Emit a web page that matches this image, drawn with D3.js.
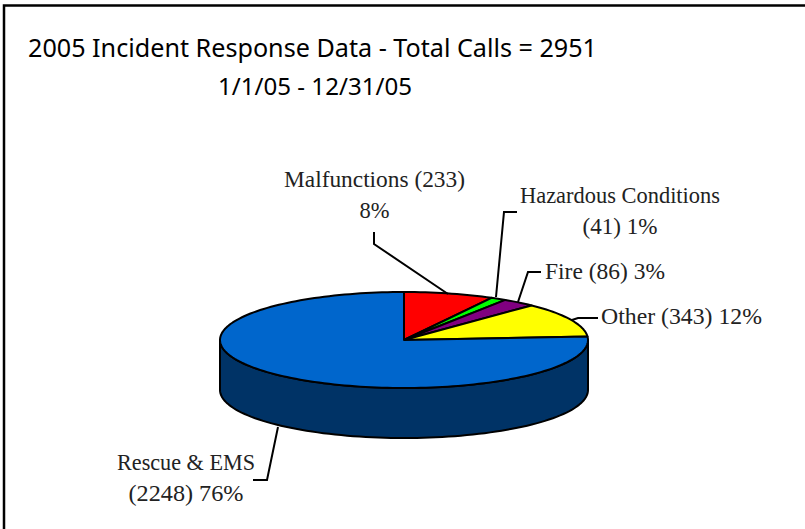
<!DOCTYPE html>
<html><head><meta charset="utf-8">
<script src="https://cdn.jsdelivr.net/npm/d3@7/dist/d3.min.js"></script>
<style>html,body{margin:0;padding:0;background:#fff;overflow:hidden}svg{display:block}</style>
</head><body>
<svg id="c" width="805" height="529"></svg>
<script>
const categories = ["Malfunctions","Hazardous Conditions","Fire","Other","Rescue & EMS"];
const values = [233,41,86,343,2248];
const topColors = ["#ff0000","#00ff00","#800080","#ffff00","#0066cc"];
const wallColor = "#003366";
const titleLines = ["2005 Incident Response Data - Total Calls = 2951","1/1/05 - 12/31/05"];
const labelLines = [["Malfunctions (233)","8%"],["Hazardous Conditions","(41) 1%"],["Fire (86) 3%"],["Other (343) 12%"],["Rescue & EMS","(2248) 76%"]];

const W=805,H=529, cx=404, cy=340, rx=184, ry=48, depth=50;
const svg=d3.select("#c");
// frame: only the top and left edges show in the crop
svg.append("path").attr("d",d3.line()([[4,H],[4,5.5],[W,5.5]])).attr("fill","none").attr("stroke","#000").attr("stroke-width",2.5);

const sx=d3.scaleLinear().domain([-1,1]).range([cx-rx,cx+rx]);
const sy=d3.scaleLinear().domain([-1,1]).range([cy-ry,cy+ry]);
const pie=d3.pie().sort(null).value(d=>d)(values);
const ink={stroke:"#000","stroke-width":2,"stroke-linejoin":"round"};
function apply(sel,o){for(const k in o) sel.attr(k,o[k]);return sel;}

const wallAngles=d3.range(90,270.5,2).map(d=>d*Math.PI/180);
const px=a=>sx(Math.sin(a)), py=a=>sy(-Math.cos(a));
const wallPts=wallAngles.map(a=>[px(a),py(a)]).concat(wallAngles.slice().reverse().map(a=>[px(a),py(a)+depth]));
apply(svg.append("path").attr("d",d3.line()(wallPts)+"Z").attr("fill",wallColor),ink);

const slice=d=>{
  const n=Math.max(2,Math.ceil((d.endAngle-d.startAngle)/0.03));
  const pts=d3.range(n+1).map(i=>{const a=d.startAngle+(d.endAngle-d.startAngle)*i/n;return [px(a),py(a)];});
  return d3.line()([[cx,cy],...pts])+"Z";
};
apply(svg.selectAll("path.s").data(pie).join("path").attr("class","s").attr("d",slice).attr("fill",(d,i)=>topColors[i]),ink);

const leaders=[
 [[374,232],[374,244],[448,294]],
 [[517,212],[504,212],[496,297]],
 [[541,272],[528,272],[518,302]],
 [[598,318],[578,318],[572,320]],
 [[253,480],[267,480],[278,427]]
];
leaders.forEach(l=>svg.append("path").attr("d",d3.line()(l)).attr("fill","none").attr("stroke","#000").attr("stroke-width",2));

const tf={"font-family":"'Noto Sans'","fill":"#000"};
apply(svg.append("text").attr("x",312.5).attr("y",57).attr("text-anchor","middle").attr("font-size",25).attr("textLength",569).attr("lengthAdjust","spacingAndGlyphs").text(titleLines[0]),tf);
apply(svg.append("text").attr("x",315).attr("y",95).attr("text-anchor","middle").attr("font-size",24).attr("textLength",194).attr("lengthAdjust","spacingAndGlyphs").text(titleLines[1]),tf);

const labelPos=[[374.5,187],[620,203],[605,279],[681.5,324],[186,470]];
const labelWidths=[[181,30],[200,75],[120],[161],[138,115]];
labelLines.forEach((ls,i)=>ls.forEach((t,j)=>{
  svg.append("text").attr("x",labelPos[i][0]).attr("y",labelPos[i][1]+j*30.5).attr("text-anchor","middle")
   .attr("font-family","'Liberation Serif'").attr("font-size",23.5).attr("fill","#222")
   .attr("textLength",labelWidths[i][j]).attr("lengthAdjust","spacingAndGlyphs").text(t);
}));
</script>
</body></html>
